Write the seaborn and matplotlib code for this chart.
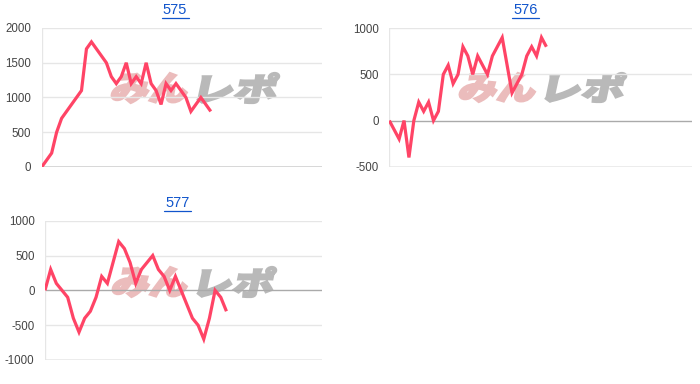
import numpy as np
import pandas as pd
import matplotlib
matplotlib.use("Agg")
import matplotlib.pyplot as plt
import seaborn as sns
from matplotlib.textpath import TextPath
from matplotlib.font_manager import FontProperties
from matplotlib.patches import PathPatch
from matplotlib.transforms import Affine2D
from matplotlib.lines import Line2D

# ---- data ----
titles = ["575", "576", "577"]
vals_575 = [0, 100, 200, 500, 700, 800, 900, 1000, 1100, 1700, 1800, 1700, 1600, 1500,
            1300, 1200, 1300, 1500, 1200, 1300, 1200, 1500, 1200, 1100, 900, 1200, 1100,
            1200, 1100, 1000, 800, 900, 1000, 900, 800]
vals_576 = [0, -100, -200, 0, -400, 0, 200, 100, 200, 0, 100, 500, 600, 400, 500, 800,
            700, 500, 700, 600, 500, 700, 800, 900, 600, 300, 400, 500, 700, 800, 700,
            900, 800]
vals_577 = [0, 300, 100, 0, -100, -400, -600, -400, -300, -100, 200, 100, 400, 700, 600,
            400, 100, 300, 400, 500, 300, 200, 0, 200, 0, -200, -400, -500, -700, -400,
            0, -100, -300]
yticks_575 = [0, 500, 1000, 1500, 2000]
yticks_576 = [-500, 0, 500, 1000]
yticks_577 = [-1000, -500, 0, 500, 1000]
watermark_a = "みん"
watermark_b = "レポ"

W, H = 700, 384
fig = plt.figure(figsize=(W / 100, H / 100), dpi=100)
sns.set_style("white")
plt.rcParams['font.family'] = ['Liberation Sans', 'DejaVu Sans']

px = Affine2D().scale(1 / W, 1 / H) + fig.transFigure

LINE = "#ff4466"
GRID = "#e6e6e6"

panels = [
    dict(vals=vals_575, ticks=yticks_575, box=(41.7, 28, 321.7, 167), xmax=56.3,
         title=titles[0], tc=(175, 10), ul=17.5, wm=(110, 195, 280, 73, 103)),
    dict(vals=vals_576, ticks=yticks_576, box=(389.3, 28.3, 691.7, 166.7), xmax=61.6,
         title=titles[1], tc=(525.5, 10), ul=17.5, wm=(458, 543, 627, 73, 102)),
    dict(vals=vals_577, ticks=yticks_577, box=(45, 220.7, 321.7, 360), xmax=48.8,
         title=titles[2], tc=(177.5, 203), ul=210.5, wm=(111, 195, 277, 267, 297)),
]

fp = FontProperties(family="Noto Sans CJK JP", weight="heavy")


def add_wm(ax, text, x0, x1, ytop, ybot, color):
    path = TextPath((0, 0), text, size=100, prop=fp)
    ext = path.get_extents()
    h = ybot - ytop
    slant = np.tan(np.radians(12))
    sy = h / ext.height
    sx = ((x1 - x0) - h * slant) / ext.width
    t = (Affine2D().translate(-ext.x0, -ext.y0).scale(sx, sy)
         .skew(np.radians(12), 0).translate(x0, H - ybot))
    patch = PathPatch(path, transform=t + px, facecolor=color, edgecolor=color,
                      linewidth=1.6, zorder=0.5, clip_on=False)
    ax.add_patch(patch)


for p in panels:
    l, t, r, b = p["box"]
    ax = fig.add_axes([l / W, 1 - b / H, (r - l) / W, (b - t) / H])
    df = pd.DataFrame({"x": np.arange(len(p["vals"])), "y": p["vals"]})
    ticks = p["ticks"]
    for v in ticks:
        if v == 0 and ticks[0] < 0:
            ax.axhline(v, color="#aaaaaa", lw=1.0, zorder=1)
        elif v == ticks[0]:
            ax.axhline(v, color="#cccccc" if v == 0 else GRID, lw=1.8, zorder=1)
        else:
            ax.axhline(v, color=GRID, lw=1.0, zorder=1)
    ax.axvline(0, color=GRID, lw=1.0, zorder=1)
    sns.lineplot(data=df, x="x", y="y", ax=ax, color=LINE, linewidth=2.3,
                 estimator=None, sort=False, zorder=3)
    for ln in ax.lines[-1:]:
        ln.set_solid_joinstyle("miter")
        ln.set_solid_capstyle("butt")
    ax.set_xlim(0, p["xmax"])
    ax.set_ylim(ticks[0], ticks[-1])
    ax.set_yticks(ticks)
    ax.set_yticklabels([str(v) for v in ticks])
    ax.set_xticks([])
    ax.set_xlabel("")
    ax.set_ylabel("")
    ax.tick_params(axis="y", length=0, pad=7.5, labelsize=8.3, labelcolor="#444444")
    for s in ax.spines.values():
        s.set_visible(False)
    ax.patch.set_alpha(0)
    wx0, wxm, wx1, wyt, wyb = p["wm"]
    add_wm(ax, watermark_a, wx0, wxm - 4, wyt, wyb, "#ebbcbc")
    add_wm(ax, watermark_b, wxm + 2, wx1, wyt, wyb, "#b9b9b9")
    # title (link style)
    cx, cy = p["tc"]
    fig.text(cx / W, 1 - cy / H, p["title"], ha="center", va="center",
             fontsize=10.5, color="#1155cc")
    fig.add_artist(Line2D([(cx - 13.5) / W, (cx + 13.5) / W],
                          [1 - p["ul"] / H, 1 - p["ul"] / H],
                          color="#1155cc", lw=0.9))

fig.savefig("out.png", dpi=100)
